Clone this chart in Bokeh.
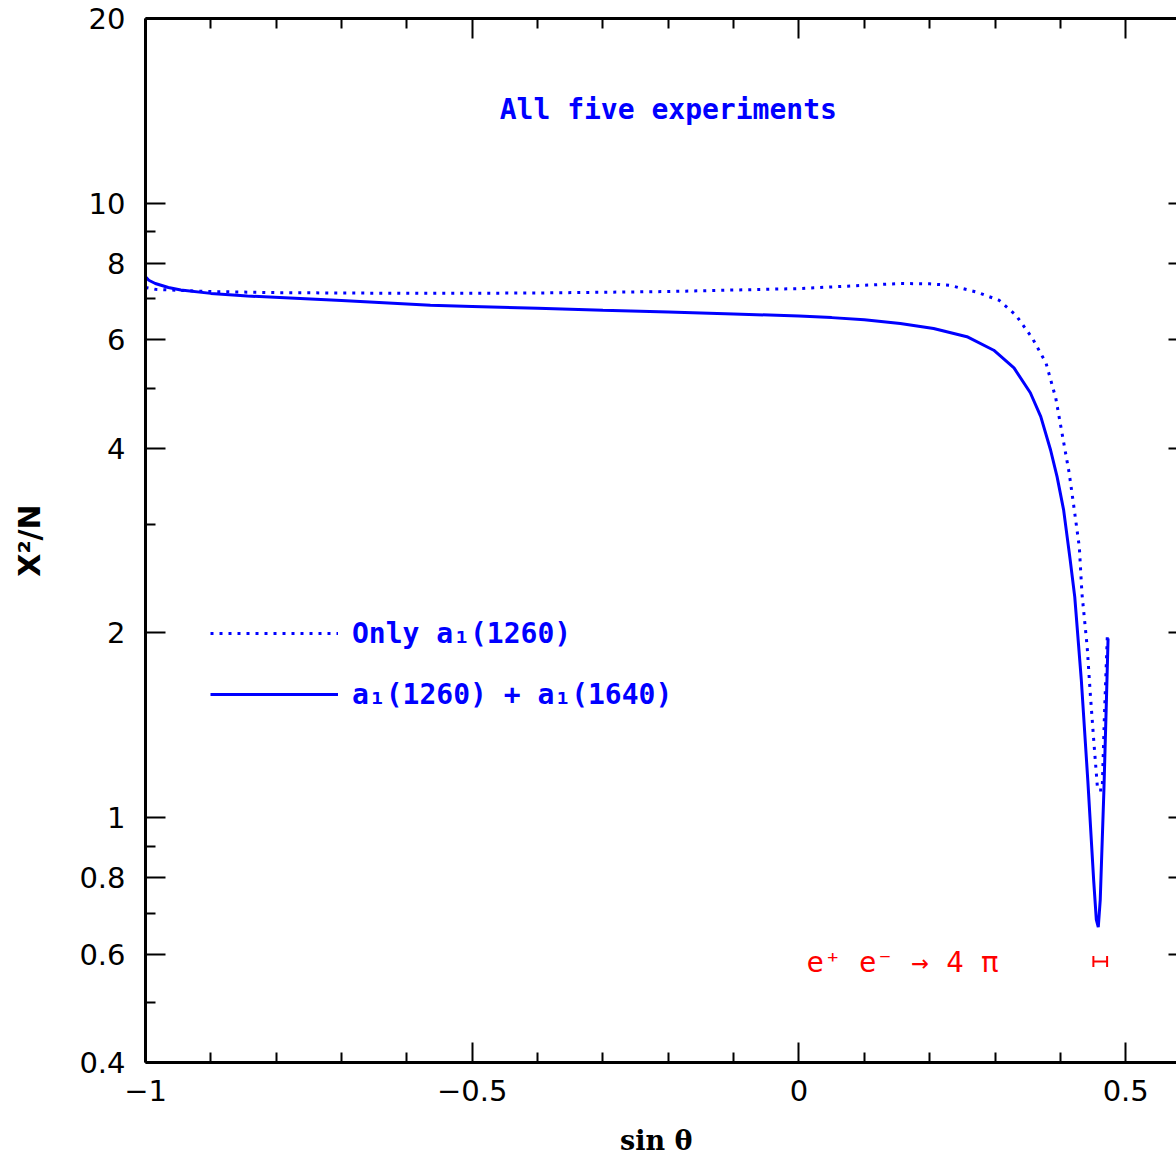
from bokeh.plotting import figure
from bokeh.models import (FixedTicker, CustomJSTickFormatter, LinearAxis, LogAxis,
                          Label, Whisker, TeeHead, ColumnDataSource, Legend, LegendItem)
from bokeh.embed import file_html
from bokeh.resources import INLINE

# ---- data ----
solid_x = [-1.000, -0.995, -0.985, -0.965, -0.946, -0.900, -0.844, -0.700, -0.564,
           -0.500, -0.400, -0.300, -0.200, -0.100, 0.000, 0.050, 0.100, 0.155,
           0.206, 0.257, 0.298, 0.329, 0.354, 0.370, 0.385, 0.395, 0.405, 0.415,
           0.422, 0.432, 0.442, 0.451, 0.455, 0.458, 0.461, 0.4665, 0.4705, 0.473]
solid_y = [7.60, 7.50, 7.41, 7.30, 7.23, 7.14, 7.07, 6.95, 6.83,
           6.80, 6.75, 6.70, 6.66, 6.61, 6.56, 6.52, 6.47, 6.38,
           6.26, 6.07, 5.77, 5.40, 4.92, 4.50, 3.97, 3.59, 3.17, 2.63,
           2.29, 1.68, 1.15, 0.79, 0.683, 0.664, 0.736, 1.10, 1.56, 1.96]

dot_x = [-1.000, -0.985, -0.950, -0.900, -0.800, -0.700, -0.564, -0.400, -0.200,
         0.000, 0.100, 0.155, 0.200, 0.230, 0.271, 0.306, 0.332, 0.357, 0.378,
         0.393, 0.403, 0.4135, 0.421, 0.429, 0.433, 0.441, 0.446, 0.451, 0.457,
         0.464, 0.4675, 0.472]
dot_y = [7.30, 7.25, 7.22, 7.19, 7.16, 7.15, 7.14, 7.15, 7.19,
         7.27, 7.36, 7.41, 7.40, 7.36, 7.18, 6.96, 6.58, 6.04, 5.50,
         4.82, 4.20, 3.64, 3.19, 2.76, 2.32, 1.90, 1.58, 1.34, 1.11,
         1.11, 1.48, 2.00]

ee_x = [0.461]
ee_err = [0.0105]
ee_y = [0.584]

x_major = [-1, -0.5, 0, 0.5]
x_minor = [-0.9, -0.8, -0.7, -0.6, -0.4, -0.3, -0.2, -0.1, 0.1, 0.2, 0.3, 0.4]
y_major = [0.4, 0.6, 0.8, 1, 2, 4, 6, 8, 10, 20]
y_minor = [0.5, 0.7, 0.9, 3, 5, 7, 9]

BLUE = "#0000ff"
RED = "#ff0000"

p = figure(width=1176, height=1158, x_range=(-1, 0.5777), y_range=(0.4, 20),
           y_axis_type="log", output_backend="svg", toolbar_location=None,
           min_border_left=145, min_border_right=0, min_border_top=18,
           min_border_bottom=95)
p.outline_line_color = None
p.xgrid.visible = False
p.ygrid.visible = False
p.background_fill_color = "white"

xfmt = CustomJSTickFormatter(code="return tick < 0 ? '\\u2212' + (-tick) : String(tick);")
yfmt = CustomJSTickFormatter(code="return String(tick);")
nofmt = CustomJSTickFormatter(code="return '';")


def style(ax, labels=True):
    ax.axis_line_width = 3
    ax.axis_line_color = "black"
    ax.major_tick_in = 20
    ax.major_tick_out = 0
    ax.minor_tick_in = 10
    ax.minor_tick_out = 0
    ax.major_tick_line_width = 2
    ax.minor_tick_line_width = 2
    if labels:
        ax.major_label_text_font = "DejaVu Sans"
        ax.major_label_text_font_size = "29px"
        ax.major_label_text_color = "black"
    else:
        ax.major_label_text_font_size = "8px"
        ax.major_label_standoff = 0


xa = p.xaxis[0]
xa.ticker = FixedTicker(ticks=x_major, minor_ticks=x_minor)
xa.formatter = xfmt
style(xa)
xa.major_label_standoff = 17
xa.major_label_text_line_height = 1.0
xa.axis_label = "sin  θ"
xa.axis_label_text_font = "DejaVu Serif"
xa.axis_label_text_font_style = "bold"
xa.axis_label_text_font_size = "27px"
xa.axis_label_text_color = "black"
xa.axis_label_text_line_height = 1.0
xa.axis_label_standoff = 21

ya = p.yaxis[0]
ya.ticker = FixedTicker(ticks=y_major, minor_ticks=y_minor)
ya.formatter = yfmt
style(ya)
ya.major_label_standoff = 20
ya.axis_label = "X²/N"
ya.axis_label_text_font = "DejaVu Sans"
ya.axis_label_text_font_style = "bold"
ya.axis_label_text_font_size = "30px"
ya.axis_label_text_color = "black"
ya.axis_label_standoff = 29

top = LinearAxis(ticker=FixedTicker(ticks=x_major, minor_ticks=x_minor), formatter=nofmt)
style(top, labels=False)
p.add_layout(top, "above")

right = LogAxis(ticker=FixedTicker(ticks=y_major, minor_ticks=[]), formatter=nofmt)
style(right, labels=False)
right.axis_line_color = None
right.major_tick_in = 8
right.minor_tick_in = 0
p.add_layout(right, "right")

r_dot = p.line(dot_x, dot_y, line_color=BLUE, line_width=3, line_dash="3 6")
r_solid = p.line(solid_x, solid_y, line_color=BLUE, line_width=3)

src = ColumnDataSource(dict(base=ee_y,
                            lower=[a - e for a, e in zip(ee_x, ee_err)],
                            upper=[a + e for a, e in zip(ee_x, ee_err)]))
wh = Whisker(source=src, base="base", lower="lower", upper="upper", dimension="width",
             line_color=RED, line_width=2,
             upper_head=TeeHead(size=11, line_color=RED, line_width=2),
             lower_head=TeeHead(size=11, line_color=RED, line_width=2))
p.add_layout(wh)

p.add_layout(Label(x=-0.2, y=14.2, text="All five experiments",
                   text_font="DejaVu Sans Mono", text_font_style="bold",
                   text_font_size="28px", text_color=BLUE,
                   text_align="center", text_baseline="middle"))
p.add_layout(Label(x=0.0115, y=0.584, text="e⁺ e⁻ → 4 π",
                   text_font="DejaVu Sans Mono", text_font_size="29px", text_color=RED,
                   text_align="left", text_baseline="middle"))

legend = Legend(items=[LegendItem(label="Only a₁(1260)", renderers=[r_dot]),
                       LegendItem(label="a₁(1260) + a₁(1640)", renderers=[r_solid])],
                location=(65, 348), glyph_width=128, glyph_height=40,
                label_standoff=14, spacing=21, padding=0, margin=0,
                border_line_color=None, background_fill_alpha=0,
                label_text_font="DejaVu Sans Mono", label_text_font_style="bold",
                label_text_font_size="28px", label_text_color=BLUE)
p.add_layout(legend)

open("out.html", "w").write(file_html(p, INLINE))
